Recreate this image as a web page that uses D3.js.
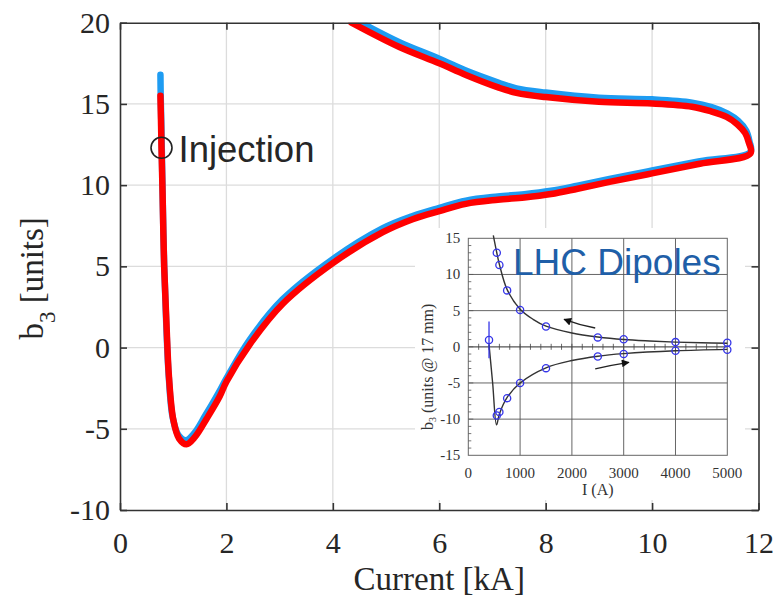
<!DOCTYPE html>
<html lang="en">
<head>
<meta charset="UTF-8">
<title>b3 vs Current</title>
<script src="https://d3js.org/d3.v7.min.js"></script>
<style>
  body { margin: 0; background: #fff; }
  svg { display: block; }
</style>
</head>
<body>
<svg width="777" height="599"></svg>
<script>
// ---- data (kA, b3 units) ----
const redCurve = [
  [0.76, 15.5], [0.77, 14.0], [0.78, 12.3], [0.80, 9.5], [0.83, 5.0], [0.875, 1.3],
  [0.92, -1.8], [1.0, -4.4], [1.11, -5.6], [1.25, -5.95], [1.41, -5.5], [1.625, -4.4],
  [1.875, -3.0], [2.0, -2.1], [2.44, 0.2], [3.06, 2.7], [4.0, 5.2], [4.94, 7.1],
  [5.5, 7.9], [6.0, 8.4], [6.5, 8.85], [7.1, 9.1], [7.6, 9.24], [8.1, 9.45], [8.6, 9.78],
  [9.2, 10.2], [10.0, 10.72], [10.9, 11.32], [11.85, 11.95],
  [11.82, 12.6], [11.75, 13.2], [11.6, 13.75], [11.4, 14.2], [11.1, 14.55],
  [10.75, 14.83], [10.0, 15.03], [9.0, 15.13], [8.0, 15.42], [7.45, 15.68],
  [7.12, 16.0], [6.5, 16.78], [6.0, 17.5], [5.25, 18.5], [4.35, 20.0]
];
const blueCurve = [
  [0.76, 16.8], [0.765, 15.5], [0.775, 14.0], [0.785, 12.3], [0.80, 9.6], [0.83, 5.1],
  [0.87, 1.4], [0.915, -1.7], [0.99, -4.3], [1.1, -5.4], [1.24, -5.7], [1.4, -5.25],
  [1.6, -4.2], [1.85, -2.8], [2.0, -1.9], [2.43, 0.45], [3.05, 2.95], [4.0, 5.45],
  [4.94, 7.35], [5.5, 8.1], [6.0, 8.6], [6.5, 9.05], [7.1, 9.3], [7.6, 9.44], [8.1, 9.65],
  [8.6, 9.97], [9.2, 10.38], [10.0, 10.9], [10.9, 11.47], [11.85, 12.05],
  [11.83, 12.7], [11.77, 13.35], [11.62, 13.95], [11.42, 14.4], [11.12, 14.8],
  [10.75, 15.08], [10.0, 15.28], [9.0, 15.38], [8.0, 15.7], [7.45, 15.96],
  [7.12, 16.3], [6.5, 17.05], [6.0, 17.78], [5.25, 18.8], [4.53, 20.0]
];
const injection = [0.78, 12.3];
const xTicks = [0, 2, 4, 6, 8, 10, 12];
const yTicks = [-10, -5, 0, 5, 10, 15, 20];

// ---- inset data (A, b3 units @ 17 mm) ----
const insetUpI = [550, 600, 750, 1000, 1500, 2500, 3000, 4000, 5000];
const insetUpB3 = [13.0, 11.3, 7.8, 5.1, 2.8, 1.3, 1.05, 0.65, 0.55];
const insetDownI = [550, 600, 750, 1000, 1500, 2500, 3000, 4000, 5000];
const insetDownB3 = [-9.5, -9.0, -7.1, -5.0, -2.95, -1.35, -1.0, -0.55, -0.4];
const insetInjPoint = [400, 0.95];
const insetInjErr = [-1.6, 3.5];
const insetFitUp = [
  [483, 15.4], [550, 13.0], [600, 11.4], [750, 7.9], [1000, 5.2], [1250, 3.8],
  [1500, 2.85], [2000, 1.9], [2500, 1.35], [3000, 1.0], [3500, 0.8], [4000, 0.65],
  [4500, 0.55], [5000, 0.5]
];
const insetFitDown = [
  [400, 0.3], [470, -5.0], [545, -10.8], [600, -9.3], [750, -7.0], [1000, -5.0],
  [1500, -2.9], [2000, -1.9], [2500, -1.3], [3000, -0.95], [4000, -0.55], [5000, -0.35]
];
const insetArrows = [
  { from: [2450, 2.6], mid: [2150, 3.0], to: [1850, 3.8] },
  { from: [2450, -3.05], mid: [2780, -2.5], to: [3100, -2.15] }
];
const insetXTicks = [0, 1000, 2000, 3000, 4000, 5000];
const insetYTicks = [-15, -10, -5, 0, 5, 10, 15];

// ---- layout ----
const svg = d3.select("svg");
const margin = { top: 22.7, right: 18.5, bottom: 89, left: 120 };
const width = 777 - margin.left - margin.right;
const height = 599 - margin.top - margin.bottom;

const g = svg.append("g").attr("transform", `translate(${margin.left},${margin.top})`);

const x = d3.scaleLinear().domain([0, 12]).range([0, width]);
const y = d3.scaleLinear().domain([-10, 20]).range([height, 0]);

const serif = "'Liberation Serif', 'Times New Roman', serif";
const sans = "'Liberation Sans', Arial, sans-serif";

// grid
g.append("g").selectAll("line").data(xTicks.slice(1, -1)).join("line")
  .attr("x1", d => x(d)).attr("x2", d => x(d)).attr("y1", 0).attr("y2", height)
  .attr("stroke", "#dcdcdc").attr("stroke-width", 1.3);
g.append("g").selectAll("line").data(yTicks.slice(1, -1)).join("line")
  .attr("y1", d => y(d)).attr("y2", d => y(d)).attr("x1", 0).attr("x2", width)
  .attr("stroke", "#dcdcdc").attr("stroke-width", 1.3);

// curves
g.append("clipPath").attr("id", "plotClip").append("rect")
  .attr("width", width).attr("height", height);

const line = d3.line().x(d => x(d[0])).y(d => y(d[1])).curve(d3.curveCatmullRom.alpha(0.5));

const curves = g.append("g").attr("clip-path", "url(#plotClip)");
curves.append("path").datum(blueCurve).attr("d", line)
  .attr("fill", "none").attr("stroke", "#1e9cf2").attr("stroke-width", 6.5)
  .attr("stroke-linecap", "round").attr("stroke-linejoin", "round");
curves.append("path").datum(redCurve).attr("d", line)
  .attr("fill", "none").attr("stroke", "#ff0000").attr("stroke-width", 6.5)
  .attr("stroke-linecap", "round").attr("stroke-linejoin", "round");

// injection marker
g.append("circle").attr("cx", x(injection[0])).attr("cy", y(injection[1])).attr("r", 10.5)
  .attr("fill", "none").attr("stroke", "#222").attr("stroke-width", 1.6);
g.append("text").attr("x", x(injection[0]) + 17).attr("y", y(injection[1]) + 14)
  .attr("font-family", sans).attr("font-size", 36.5).attr("fill", "#262626")
  .text("Injection");

// axes (box with inward ticks)
const axisColor = "#333";
const xAxis = g.append("g").attr("transform", `translate(0,${height})`)
  .call(d3.axisBottom(x).tickValues(xTicks).tickSize(-7).tickSizeOuter(0).tickPadding(22)
    .tickFormat(d => String(d)));
const yAxis = g.append("g")
  .call(d3.axisLeft(y).tickValues(yTicks).tickSize(-7).tickSizeOuter(0).tickPadding(10)
    .tickFormat(d => String(d)));
g.append("g")
  .call(d3.axisTop(x).tickValues(xTicks).tickSize(-7).tickSizeOuter(0).tickFormat(""));
g.append("g").attr("transform", `translate(${width},0)`)
  .call(d3.axisRight(y).tickValues(yTicks).tickSize(-7).tickSizeOuter(0).tickFormat(""));
g.selectAll(".domain, .tick line").attr("stroke", axisColor).attr("stroke-width", 1.6);
[xAxis, yAxis].forEach(a => a.selectAll("text")
  .attr("font-family", serif).attr("font-size", 30).attr("fill", "#262626"));

// axis labels
g.append("text").attr("x", width / 2).attr("y", height + 80)
  .attr("text-anchor", "middle").attr("font-family", serif).attr("font-size", 33)
  .attr("fill", "#262626").text("Current [kA]");
const yLab = g.append("text").attr("transform", `translate(${43 - margin.left},${height / 2 + 12}) rotate(-90)`)
  .attr("text-anchor", "middle").attr("font-family", serif).attr("font-size", 33)
  .attr("fill", "#262626");
yLab.append("tspan").text("b");
yLab.append("tspan").attr("font-size", 23).attr("dy", 12).text("3");
yLab.append("tspan").attr("dy", -12).text(" [units]");

// ---- inset ----
const inset = svg.append("g");
inset.append("rect").attr("x", 415).attr("y", 228).attr("width", 330).attr("height", 272)
  .attr("fill", "#fff");

const ix0 = 468.3, iy0 = 238.3, iw = 259, ih = 217;
const ig = inset.append("g").attr("transform", `translate(${ix0},${iy0})`);
const ix = d3.scaleLinear().domain([0, 5000]).range([0, iw]);
const iy = d3.scaleLinear().domain([-15, 15]).range([ih, 0]);
const gridCol = "#555";

ig.append("g").selectAll("line").data(insetXTicks.slice(1, -1)).join("line")
  .attr("x1", d => ix(d)).attr("x2", d => ix(d)).attr("y1", 0).attr("y2", ih)
  .attr("stroke", gridCol).attr("stroke-width", 0.9);
ig.append("g").selectAll("line").data(insetYTicks.slice(1, -1)).join("line")
  .attr("y1", d => iy(d)).attr("y2", d => iy(d)).attr("x1", 0).attr("x2", iw)
  .attr("stroke", gridCol).attr("stroke-width", d => d === 0 ? 1.2 : 0.9);
ig.append("rect").attr("width", iw).attr("height", ih)
  .attr("fill", "none").attr("stroke", "#666").attr("stroke-width", 1);

// minor ticks on zero line and left axis
ig.append("g").selectAll("line").data(d3.range(200, 5000, 200)).join("line")
  .attr("x1", d => ix(d)).attr("x2", d => ix(d)).attr("y1", iy(0) - 3).attr("y2", iy(0) + 3)
  .attr("stroke", "#444").attr("stroke-width", 0.8);
ig.append("g").selectAll("line").data(d3.range(-14, 15, 1)).join("line")
  .attr("x1", 0).attr("x2", d => d % 5 === 0 ? 5 : 3).attr("y1", d => iy(d)).attr("y2", d => iy(d))
  .attr("stroke", "#555").attr("stroke-width", 0.8);

// inset tick labels
ig.append("g").selectAll("text").data(insetXTicks).join("text")
  .attr("x", d => ix(d)).attr("y", ih + 23).attr("text-anchor", "middle")
  .attr("font-family", serif).attr("font-size", 15).attr("fill", "#333").text(d => d);
ig.append("g").selectAll("text").data(insetYTicks).join("text")
  .attr("x", -8).attr("y", d => iy(d) + 5).attr("text-anchor", "end")
  .attr("font-family", serif).attr("font-size", 15).attr("fill", "#333").text(d => d);
ig.append("text").attr("x", iw / 2).attr("y", ih + 40).attr("text-anchor", "middle")
  .attr("font-family", serif).attr("font-size", 16).attr("fill", "#333").text("I (A)");
const iyLab = ig.append("text").attr("transform", `translate(-35,${ih / 2 + 20}) rotate(-90)`)
  .attr("text-anchor", "middle").attr("font-family", serif).attr("font-size", 16).attr("fill", "#333");
iyLab.append("tspan").text("b");
iyLab.append("tspan").attr("font-size", 10).attr("dy", 3).text("3");
iyLab.append("tspan").attr("dy", -3).text(" (units @ 17 mm)");

// fit curves
const iline = d3.line().x(d => ix(d[0])).y(d => iy(d[1])).curve(d3.curveCatmullRom.alpha(0.5));
ig.append("path").datum(insetFitUp).attr("d", iline)
  .attr("fill", "none").attr("stroke", "#333").attr("stroke-width", 1.4);
ig.append("path").datum(insetFitDown).attr("d", iline)
  .attr("fill", "none").attr("stroke", "#333").attr("stroke-width", 1.4);

// arrows
svg.append("defs").append("marker").attr("id", "arrowHead")
  .attr("viewBox", "0 0 10 10").attr("refX", 9).attr("refY", 5)
  .attr("markerWidth", 9).attr("markerHeight", 6).attr("orient", "auto")
  .append("path").attr("d", "M0,0 L10,5 L0,10 z").attr("fill", "#111");
ig.selectAll(".arrow").data(insetArrows).join("path").attr("class", "arrow")
  .attr("d", d => `M${ix(d.from[0])},${iy(d.from[1])} Q${ix(d.mid[0])},${iy(d.mid[1])} ${ix(d.to[0])},${iy(d.to[1])}`)
  .attr("fill", "none").attr("stroke", "#222").attr("stroke-width", 1.3)
  .attr("marker-end", "url(#arrowHead)");

// data points
const ptColor = "#3535e8";
ig.append("line").attr("x1", ix(insetInjPoint[0])).attr("x2", ix(insetInjPoint[0]))
  .attr("y1", iy(insetInjErr[0])).attr("y2", iy(insetInjErr[1]))
  .attr("stroke", ptColor).attr("stroke-width", 1.3);
const pts = insetUpI.map((v, i) => [v, insetUpB3[i]])
  .concat(insetDownI.map((v, i) => [v, insetDownB3[i]]))
  .concat([insetInjPoint]);
ig.append("g").selectAll("circle").data(pts).join("circle")
  .attr("cx", d => ix(d[0])).attr("cy", d => iy(d[1])).attr("r", 3.6)
  .attr("fill", "none").attr("stroke", ptColor).attr("stroke-width", 1.3);

// title
inset.append("text").attr("x", 513).attr("y", 275)
  .attr("font-family", sans).attr("font-size", 37).attr("fill", "#1f5fa8")
  .text("LHC Dipoles");
</script>
</body>
</html>
